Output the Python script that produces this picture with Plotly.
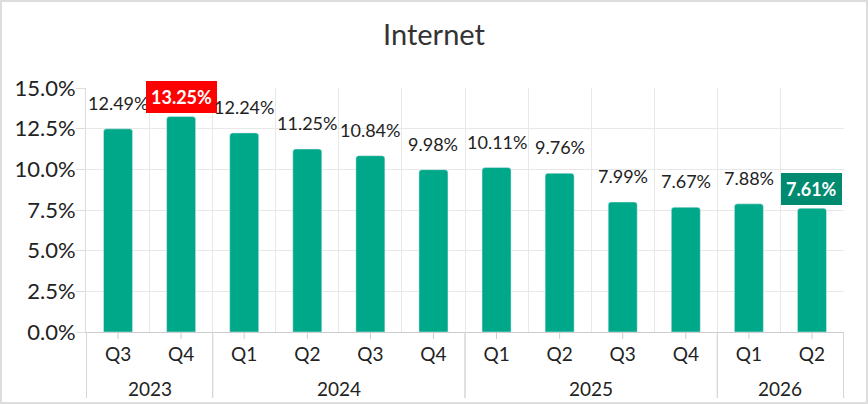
import plotly.graph_objects as go

# data
years = ["2023", "2023", "2024", "2024", "2024", "2024",
         "2025", "2025", "2025", "2025", "2026", "2026"]
quarters = ["Q3", "Q4", "Q1", "Q2", "Q3", "Q4",
            "Q1", "Q2", "Q3", "Q4", "Q1", "Q2"]
share = [12.49, 13.25, 12.24, 11.25, 10.84, 9.98,
         10.11, 9.76, 7.99, 7.67, 7.88, 7.61]

FONT = "Lato"
BAR = "#00a88a"
W, H = 868, 404
ML, MR, MT, MB = 86, 24, 88, 72
pw, ph = W - ML - MR, H - MT - MB

keys = [f"{y} {q}" for y, q in zip(years, quarters)]

fig = go.Figure(go.Bar(
    x=keys,
    y=share,
    marker=dict(color=BAR, cornerradius=3),
    hoverinfo="skip",
))

# value labels; the highest and the latest get a coloured box
i_max = share.index(max(share))
i_last = len(share) - 1
annotations = []
for i, v in enumerate(share):
    txt = f"{v:.2f}%"
    if i == i_max or i == i_last:
        bg = "#ff0000" if i == i_max else "#008a70"
        annotations.append(dict(
            x=keys[i], y=v, xref="x", yref="y", text=f"<b>{txt}</b>",
            showarrow=False, yanchor="middle", yshift=19,
            font=dict(family=FONT, size=18, color="white"),
            bgcolor=bg, bordercolor=bg, borderpad=4,
        ))
    else:
        annotations.append(dict(
            x=keys[i], y=v, xref="x", yref="y", text=txt,
            showarrow=False, yanchor="middle", yshift=26,
            font=dict(family=FONT, size=18, color="#222222"),
        ))

# year group labels and dividers under the quarter labels
groups = []
for i, y in enumerate(years):
    if not groups or groups[-1][0] != y:
        groups.append([y, i, i])
    else:
        groups[-1][2] = i

shapes = []
for y, a, b in groups:
    annotations.append(dict(
        x=(a + b) / 2, y=-(388 - (H - MB)) / ph, xref="x", yref="paper",
        text=y, showarrow=False, yanchor="middle",
        font=dict(family=FONT, size=19, color="#222222"),
    ))
    for edge in (a - 0.5, b + 0.5):
        shapes.append(dict(type="line", xref="x", yref="paper",
                           x0=edge, x1=edge, y0=0, y1=-(MB - 6) / ph,
                           line=dict(color="#d6d6d6", width=1)))

# small ticks under each bar
for k in keys:
    shapes.append(dict(type="line", xref="x", yref="paper",
                       x0=k, x1=k, y0=0, y1=-7 / ph,
                       line=dict(color="#cccccc", width=1)))
# light frame round the whole chart
shapes.append(dict(type="rect", xref="paper", yref="paper",
                   x0=-(ML - 1) / pw, x1=(W - ML - 1) / pw,
                   y0=-(MB - 1) / ph, y1=(H - MB - 1) / ph,
                   line=dict(color="#dddddd", width=2)))

fig.update_layout(
    width=W, height=H,
    margin=dict(l=ML, r=MR, t=MT, b=MB),
    paper_bgcolor="white", plot_bgcolor="white",
    font=dict(family=FONT, color="#222222"),
    title=dict(text="Internet", x=0.5, xanchor="center",
               y=1 - 35 / H, yanchor="middle",
               font=dict(family=FONT, size=29, color="#333333")),
    bargap=0.54,
    showlegend=False,
    annotations=annotations,
    shapes=shapes,
)
fig.update_xaxes(
    type="category",
    tickvals=keys, ticktext=quarters,
    tickson="boundaries", ticks="",
    showgrid=True, gridcolor="#e8e8e8",
    showline=True, linecolor="#cccccc",
    tickfont=dict(family=FONT, size=19, color="#222222"),
    ticklabelstandoff=5,
    automargin=False,
)
fig.update_yaxes(
    range=[0, 15], dtick=2.5, tickformat=".1f", ticksuffix="%",
    showgrid=True, gridcolor="#e8e8e8",
    showline=True, linecolor="#dddddd",
    ticks="outside", ticklen=9, tickcolor="#dddddd",
    tickfont=dict(family=FONT, size=22, color="#222222"),
    ticklabelstandoff=-4,
    zeroline=False, automargin=False,
)

fig.write_html("out.html", config={"displayModeBar": False},
               post_script="document.body.style.margin='0';")
